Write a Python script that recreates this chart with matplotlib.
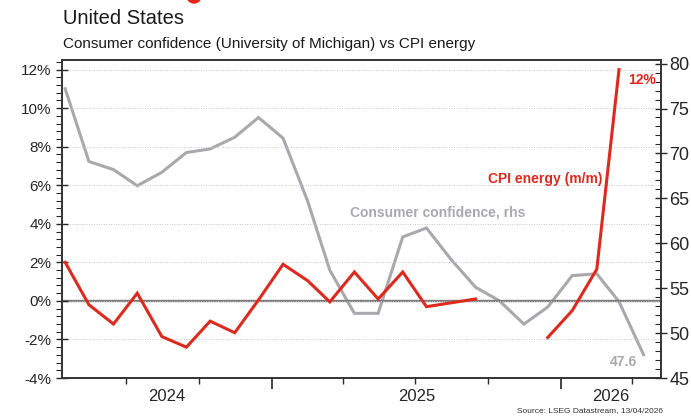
import matplotlib
matplotlib.use("Agg")
from matplotlib import pyplot as plt
from matplotlib.patches import Ellipse
from matplotlib.ticker import MultipleLocator, NullFormatter
import matplotlib.dates as mdates
import matplotlib.transforms as mtrans
import numpy as np
import pandas as pd

plt.rcParams['font.family'] = ['Liberation Sans', 'DejaVu Sans']

# monthly data, plotted mid-month
conf_months = pd.date_range("2024-04-01", "2026-04-01", freq="MS") + pd.Timedelta(days=14)
cpi_months = conf_months[:-1]

# University of Michigan consumer sentiment (rhs)
confidence = [77.2, 69.1, 68.2, 66.4, 67.9, 70.1, 70.5, 71.8, 74.0, 71.7, 64.7, 57.0,
              52.2, 52.2, 60.7, 61.7, 58.2, 55.1, 53.6, 51.0, 52.9, 56.4, 56.6, 53.5, 47.6]
# CPI energy m/m, % (Oct/Nov 2025 not published)
cpi_energy = [2.0, -0.2, -1.2, 0.4, -1.85, -2.4, -1.05, -1.65, 0.05, 1.9, 1.05, -0.05,
              1.5, 0.1, 1.5, -0.3, -0.1, 0.1, np.nan, np.nan, -1.9, -0.5, 1.65, 12.0]

left_ticks = list(range(-4, 13, 2))
right_ticks = list(range(45, 81, 5))
years = [2024, 2025, 2026]

RED = '#dd2a1f'
GREY = '#a9a9ad'
DARK = '#262626'

fig = plt.figure(figsize=(6.91, 4.17), dpi=100)
ax = fig.add_axes([62/691, 1-378/417, 599/691, 318/417])
ax2 = ax.twinx()
ax.set_zorder(ax2.get_zorder() + 1)
ax.patch.set_visible(False)

ax.axhline(0, color='#7a7a7a', lw=1.7, zorder=1)
ax.grid(axis='y', which='major', linestyle=(0, (1, 1.5)), color='#c8c8c8', lw=0.7)

ax2.plot(conf_months, confidence, color=GREY, lw=2.2, solid_joinstyle='miter')
ax.plot(cpi_months, cpi_energy, color=RED, lw=2.2, zorder=3, solid_joinstyle='miter')

x0 = pd.Timestamp("2024-04-11")
x1 = pd.Timestamp("2026-05-07")
ax.set_xlim(x0, x1)
ax.set_ylim(-4, 12.5)
ax2.set_ylim(45, 80.4)

ax.set_yticks(left_ticks)
ax.set_yticklabels([f"{v}%" for v in left_ticks])
ax.yaxis.set_minor_locator(MultipleLocator(0.4))
ax2.set_yticks(right_ticks)
ax2.yaxis.set_minor_locator(MultipleLocator(1))

ax.xaxis.set_major_locator(mdates.YearLocator())
ax.xaxis.set_minor_locator(mdates.MonthLocator(bymonth=[1, 4, 7, 10]))
ax.xaxis.set_major_formatter(NullFormatter())
ax.xaxis.set_minor_formatter(NullFormatter())

ax.tick_params(axis='y', which='major', direction='inout', length=8, width=1, colors=DARK, labelsize=11)
ax.tick_params(axis='y', which='minor', direction='out', length=4, width=0.8, colors=DARK)
ax2.tick_params(axis='y', which='major', direction='inout', length=8, width=1, colors=DARK,
                labelsize=13, pad=2)
ax2.tick_params(axis='y', which='minor', direction='in', length=4, width=0.8, colors=DARK)
ax.tick_params(axis='x', which='major', direction='out', length=8, width=1.2, colors=DARK)
ax.tick_params(axis='x', which='minor', direction='out', length=4, width=1, colors=DARK)

for a in (ax, ax2):
    for s in a.spines.values():
        s.set_color('#333333')
        s.set_linewidth(1.2)

# year labels centred on the visible part of each year
blend = mtrans.blended_transform_factory(ax.transData, ax.transAxes)
for y in years:
    a = max(pd.Timestamp(f"{y}-01-01"), x0)
    b = min(pd.Timestamp(f"{y+1}-01-01"), x1)
    mid = a + (b - a) / 2
    ax.text(mid, -0.058, str(y), transform=blend, ha='center', va='center',
            fontsize=12, color=DARK)

# series labels
ax.text(pd.Timestamp("2025-12-12"), 6.35, "CPI energy (m/m)", color=RED,
        fontsize=10, fontweight='bold', ha='center', va='center')
ax2.text(pd.Timestamp("2025-07-29"), 63.4, "Consumer confidence, rhs", color=GREY,
         fontsize=10, fontweight='bold', ha='center', va='center')
ax.annotate(f"{cpi_energy[-1]:.0f}%", xy=(cpi_months[-1], cpi_energy[-1]),
            xytext=(23, -10), textcoords='offset pixels', color=RED,
            fontsize=10, fontweight='bold', ha='center', va='center')
ax2.annotate(f"{confidence[-1]}", xy=(conf_months[-1], confidence[-1]),
             xytext=(-20, -7), textcoords='offset pixels', color=GREY,
             fontsize=10, fontweight='bold', ha='center', va='center')

fig.text(63/691, 1-19/417, "United States", fontsize=14.5, color='#1a1a1a', va='center')
fig.text(63/691, 1-44/417, "Consumer confidence (University of Michigan) vs CPI energy",
         fontsize=11, color='#1a1a1a', va='center')
fig.text(663/691, 1-411/417, "Source: LSEG Datastream, 13/04/2026", fontsize=6,
         color='#333333', ha='right', va='center')

# bit of the logo cut off at the top
fig.patches.append(Ellipse((194/691, 1+4/417), 14/691, 14/417, transform=fig.transFigure,
                           color='#e8231c', clip_on=False))

fig.savefig("out.png", dpi=100)
